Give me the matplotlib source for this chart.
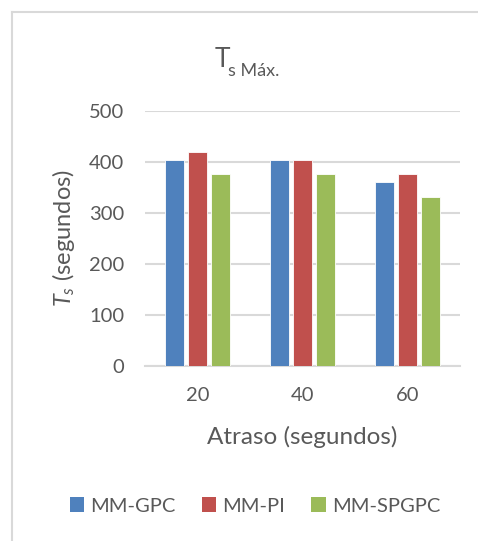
import matplotlib
matplotlib.use("Agg")
import matplotlib.pyplot as plt
import numpy as np
from matplotlib.lines import Line2D
from matplotlib.patches import Patch

plt.rcParams['font.family'] = ['Lato', 'DejaVu Sans']
plt.rcParams['mathtext.fontset'] = 'custom'
plt.rcParams['mathtext.rm'] = 'Lato'
plt.rcParams['mathtext.it'] = 'Lato:italic'

categories = ["20", "40", "60"]
series_names = ["MM-GPC", "MM-PI", "MM-SPGPC"]
mm_gpc = [404, 404, 360]
mm_pi = [419, 404, 375]
mm_spgpc = [375, 375, 330]
yticks = [0, 100, 200, 300, 400, 500]
colors = ["#4f81bd", "#c0504d", "#9bbb59"]
text_color = "#595959"
grid_color = "#d9d9d9"

W, H = 478, 541
fig = plt.figure(figsize=(W / 100, H / 100), dpi=100)
fig.patch.set_facecolor("white")

def fx(px):
    return px / W

def fy(py):
    return 1 - py / H

ax = fig.add_axes([fx(145), fy(365.7), (460 - 145) / W, (365.7 - 110.7) / H])

x = np.arange(len(categories))
bw = 0.176
step = 0.219
for i, (vals, c) in enumerate(zip([mm_gpc, mm_pi, mm_spgpc], colors)):
    ax.bar(x + (i - 1) * step, vals, width=bw, color=c, edgecolor="white",
           linewidth=0.6, zorder=3)

ax.set_xlim(-0.5, len(categories) - 0.5)
ax.set_ylim(0, 500)
ax.set_yticks(yticks)
ax.set_xticks(x)
ax.set_xticklabels(categories)
ax.yaxis.grid(True, color=grid_color, linewidth=1.5, zorder=0)
ax.set_axisbelow(True)
for s in ["top", "right", "left"]:
    ax.spines[s].set_visible(False)
ax.spines["bottom"].set_color(grid_color)
ax.spines["bottom"].set_linewidth(1.5)
ax.spines["bottom"].set_zorder(1)
ax.tick_params(axis="both", length=0, labelsize=14.5, labelcolor=text_color)
ax.tick_params(axis="x", pad=15)
ax.tick_params(axis="y", pad=15)

# Title
fig.text(fx(215), fy(67), "T", fontsize=19, color=text_color, va="baseline", ha="left")
fig.text(fx(228.5), fy(76), "s Máx.", fontsize=13, color=text_color, va="baseline", ha="left")

# Axis labels
fig.text(fx(302), fy(444), "Atraso (segundos)", fontsize=17.5, color=text_color,
         va="baseline", ha="center")
fig.text(fx(64), fy(238), r"$T_s$ (segundos)", fontsize=17, color=text_color,
         va="center", ha="center", rotation=90)

# Legend
handles = [Patch(facecolor=c, edgecolor="none") for c in colors]
leg = fig.legend(handles, series_names, loc="center", bbox_to_anchor=(fx(255), fy(506)),
                 ncol=3, frameon=False, fontsize=14.5, handlelength=0.72,
                 handleheight=0.72, handletextpad=0.3, columnspacing=1.3)
for t in leg.get_texts():
    t.set_color(text_color)

# Chart border (left and top only visible)
fig.add_artist(Line2D([fx(12), fx(12)], [fy(12), 0], color=grid_color, linewidth=1.5))
fig.add_artist(Line2D([fx(12), 1], [fy(12), fy(12)], color=grid_color, linewidth=1.5))

fig.savefig("out.png", dpi=100, facecolor="white")
